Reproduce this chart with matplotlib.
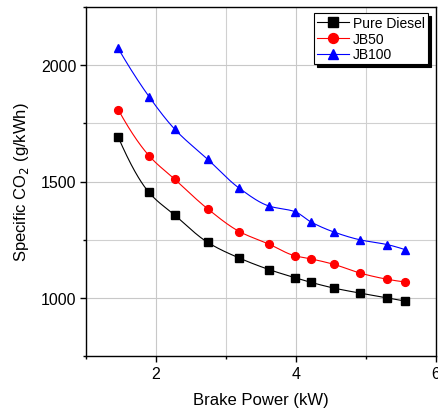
import numpy as np
import matplotlib
matplotlib.use("Agg")
import matplotlib.pyplot as plt
from matplotlib.ticker import MultipleLocator

plt.rcParams['font.family'] = ['Liberation Sans', 'DejaVu Sans']

power = [1.46, 1.90, 2.27, 2.74, 3.19, 3.62, 3.98, 4.22, 4.54, 4.92, 5.30, 5.56]
pure_diesel = [1691, 1453, 1355, 1238, 1171, 1121, 1087, 1066, 1042, 1020, 1000, 986]
jb50 = [1809, 1611, 1509, 1382, 1285, 1230, 1181, 1167, 1144, 1106, 1080, 1068]
jb100 = [2072, 1865, 1724, 1595, 1471, 1394, 1371, 1325, 1283, 1249, 1229, 1207]
labels = ["Pure Diesel", "JB50", "JB100"]


def pchip(x, y, n=400):
    x = np.asarray(x, float)
    y = np.asarray(y, float)
    h = np.diff(x)
    delta = np.diff(y) / h
    m = len(x)
    d = np.zeros(m)
    for k in range(1, m - 1):
        if delta[k - 1] * delta[k] > 0:
            w1 = 2 * h[k] + h[k - 1]
            w2 = h[k] + 2 * h[k - 1]
            d[k] = (w1 + w2) / (w1 / delta[k - 1] + w2 / delta[k])
    d[0] = ((2 * h[0] + h[1]) * delta[0] - h[0] * delta[1]) / (h[0] + h[1])
    if np.sign(d[0]) != np.sign(delta[0]):
        d[0] = 0
    d[-1] = ((2 * h[-1] + h[-2]) * delta[-1] - h[-1] * delta[-2]) / (h[-1] + h[-2])
    if np.sign(d[-1]) != np.sign(delta[-1]):
        d[-1] = 0
    xs = np.linspace(x[0], x[-1], n)
    idx = np.clip(np.searchsorted(x, xs) - 1, 0, m - 2)
    t = (xs - x[idx]) / h[idx]
    h00 = 2 * t ** 3 - 3 * t ** 2 + 1
    h10 = t ** 3 - 2 * t ** 2 + t
    h01 = -2 * t ** 3 + 3 * t ** 2
    h11 = t ** 3 - t ** 2
    ys = h00 * y[idx] + h10 * h[idx] * d[idx] + h01 * y[idx + 1] + h11 * h[idx] * d[idx + 1]
    return xs, ys


fig = plt.figure(figsize=(4.39, 4.10), dpi=100)
ax = fig.add_axes([86 / 439, 1 - 357 / 410, 350 / 439, 349 / 410])

series = [(pure_diesel, 'black', 's', 5.2), (jb50, 'red', 'o', 5.6), (jb100, 'blue', '^', 6.2)]
for (vals, col, mk, ms), lab in zip(series, labels):
    xs, ys = pchip(power, vals)
    ax.plot(xs, ys, color=col, lw=0.8, zorder=3)
    ax.plot(power, vals, linestyle='none', marker=mk, color=col, ms=ms, zorder=4)
    ax.plot([], [], color=col, lw=0.8, marker=mk, ms=ms + 1.5, label=lab)

ax.set_xlim(1, 6)
ax.set_ylim(750, 2250)
ax.xaxis.set_major_locator(MultipleLocator(2))
ax.xaxis.set_minor_locator(MultipleLocator(1))
ax.yaxis.set_major_locator(MultipleLocator(500))
ax.yaxis.set_minor_locator(MultipleLocator(250))
ax.set_yticks([1000, 1500, 2000])
ax.grid(True, which='major', color='#c8c8c8', lw=0.8)
ax.grid(True, which='minor', color='#d0d0d0', lw=0.8)
ax.set_axisbelow(True)
ax.tick_params(which='major', direction='out', length=4, width=1, labelsize=11.5, pad=3)
ax.tick_params(which='minor', direction='out', length=2.5, width=1)
for s in ax.spines.values():
    s.set_linewidth(1.0)

ax.set_xlabel("Brake Power (kW)", fontsize=12, labelpad=8)
ax.set_ylabel("Specific CO$_2$ (g/kWh)", fontsize=12, labelpad=7)

leg = ax.legend(loc='upper right', bbox_to_anchor=(0.985, 0.99), fontsize=10,
                frameon=True, fancybox=False, shadow={'color': 'black', 'alpha': 1},
                handlelength=2.3, handletextpad=0.3, borderpad=0.2, labelspacing=0.12,
                borderaxespad=0.2)
leg.get_frame().set_edgecolor('black')
leg.get_frame().set_linewidth(0.8)
leg.get_frame().set_alpha(1)

fig.savefig("out.png", dpi=100)
